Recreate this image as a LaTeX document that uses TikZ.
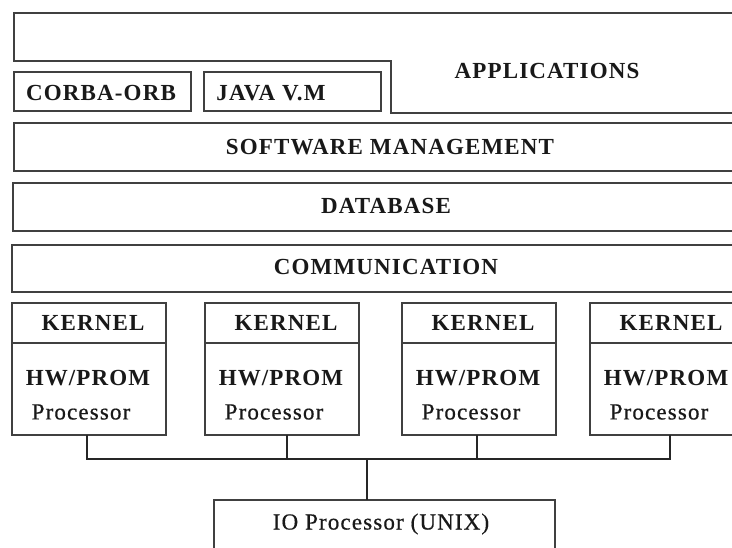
\documentclass[tikz,border=0pt]{standalone}
\usepackage{fontspec}
\setmainfont{Liberation Serif}
\newfontfamily\lblfont[LetterSpace=5]{Liberation Serif}
\newfontfamily\lblfontmid[LetterSpace=5,FakeBold=0.6]{Liberation Serif}
\begin{document}
\begin{tikzpicture}[x=1pt,y=-1pt,
  frame/.style={draw=black!75,line width=1.5pt},
  capt/.style={font=\lblfont\fontsize{23}{25}\selectfont\bfseries,inner sep=0pt,text=black!90},
  plain/.style={font=\lblfontmid\fontsize{23}{25}\selectfont,inner sep=0pt,text=black!90},
  wire/.style={draw=black!85,line width=1.6pt}]
\useasboundingbox (0,0) rectangle (732,547);
\clip (0,0) rectangle (732,547);
\fill[white] (0,0) rectangle (732,547);

% applications layer (stepped outline)
\draw[frame] (745,13) -- (14,13) -- (14,61) -- (391,61) -- (391,113) -- (745,113);
\node[capt] (apps) at (547,71) {APPLICATIONS};

% middleware boxes
\draw[frame] (14,72) rectangle (191,111);
\node[capt] (orb) at (101,93) {CORBA-ORB};
\draw[frame] (204,72) rectangle (381,111);
\node[capt] (jvm) at (271,93) {JAVA V.M};

% system layers
\draw[frame] (14,123) rectangle (745,171);
\node[capt] (swm) at (390,147) {SOFTWARE MANAGEMENT};
\draw[frame] (13,183) rectangle (745,231);
\node[capt] (db) at (386,206) {DATABASE};
\draw[frame] (12,245) rectangle (745,292);
\node[capt] (comm) at (386,267) {COMMUNICATION};

% processor nodes
\foreach \i/\l in {1/12,2/205,3/402,4/590}{
  \draw[frame] (\l,303) rectangle ++(154,132);
  \draw[frame] (\l,343) -- ++(154,0);
  \node[capt] (kern\i) at (\l+81,323) {KERNEL};
  \node[capt] (hw\i) at (\l+76,378) {HW/PROM};
  \node[plain] (proc\i) at (\l+69,412) {Processor};
}

% IO processor
\draw[frame] (214,560) -- (214,500) -- (555,500) -- (555,560);
\node[plain] (io) at (381,524) {IO Processor (UNIX)};
\coordinate (iotop) at (367,500);

% bus
\coordinate (t1) at (87,435);
\coordinate (t2) at (287,435);
\coordinate (t3) at (477,435);
\coordinate (t4) at (670,435);
\coordinate (bus) at (367,459);
\draw[wire] (t1) -- (t1 |- bus) -- (t4 |- bus) -- (t4);
\draw[wire] (t2) -- (t2 |- bus);
\draw[wire] (t3) -- (t3 |- bus);
\draw[wire] (bus) -- (iotop);
\end{tikzpicture}
\end{document}
